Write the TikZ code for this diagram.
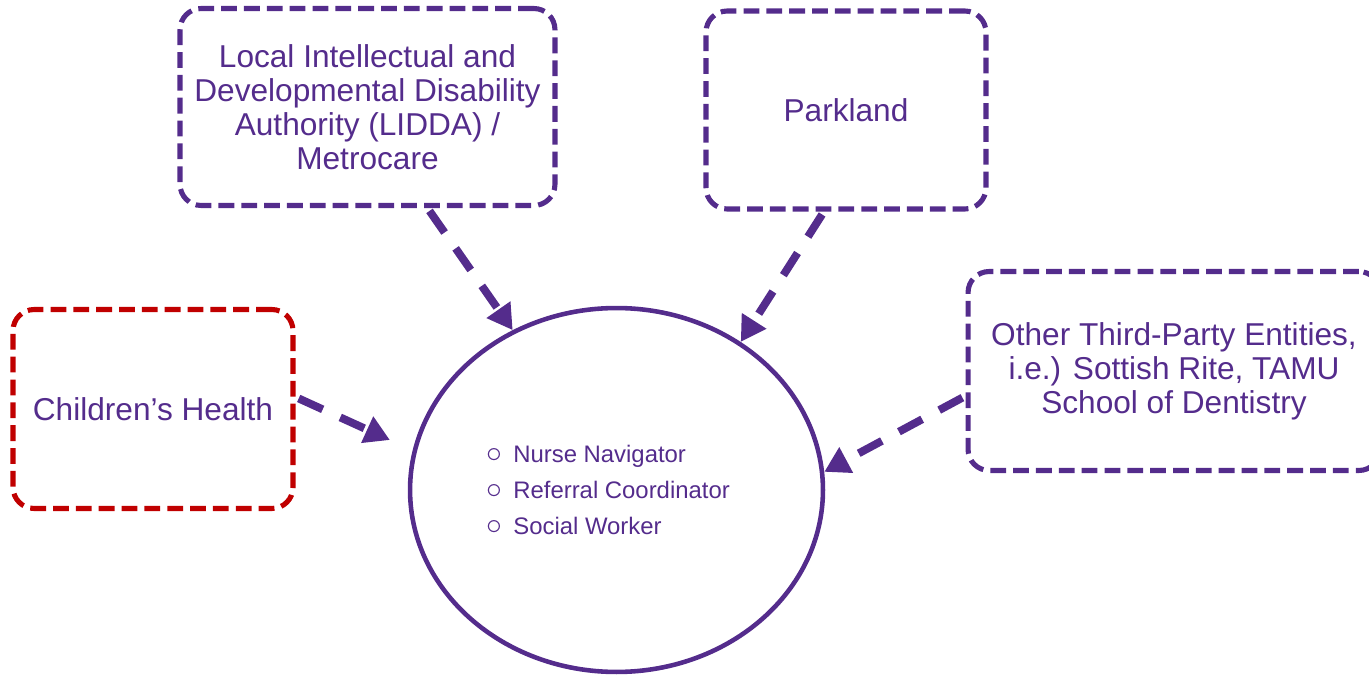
\documentclass[tikz,border=0pt]{standalone}
\usepackage{fontspec}
\setmainfont{Liberation Sans}
\usetikzlibrary{arrows.meta,shapes.geometric}
\definecolor{lidpurple}{HTML}{542C8C}
\definecolor{chred}{HTML}{C00000}
\tikzstyle{agency}=[
	rectangle,
	rounded corners=12,
	draw=lidpurple,
	line width=2.9pt,
	dash pattern=on 9pt off 4pt,
	text=lidpurple,
	align=center,
	inner sep=0,
	font=\fontsize{18}{19.4}\selectfont]
\tikzstyle{hubnode}=[
	ellipse,
	draw=lidpurple,
	line width=2.6pt,
	inner sep=0,
	minimum width=8.26cm,
	minimum height=7.28cm]
\tikzstyle{referral}=[
	draw=lidpurple,
	line width=4.5pt,
	dash pattern=on 15pt off 11pt,
	shorten <=2pt]
\newcommand{\rolebullet}{\makebox[0.58cm][l]{\hspace{1pt}\scalebox{1.25}{$\circ$}}}

\begin{document}
\begin{tikzpicture}[x=0.02cm,y=-0.02cm,>={Triangle[length=0.5cm,width=0.55cm]}]
		\useasboundingbox (0,0) rectangle (1369,675);
		\node[agency,minimum width=7.5cm,minimum height=3.94cm] (lidda) at (367.5,107)
			{Local Intellectual and\\Developmental Disability\\Authority (LIDDA) /\\Metrocare};
		\node[agency,minimum width=5.6cm,minimum height=3.96cm] (park) at (846,110)
			{Parkland};
		\node[agency,draw=chred,minimum width=5.6cm,minimum height=3.98cm] (child) at (153,409)
			{Children’s Health};
		\node[agency,minimum width=8.24cm,minimum height=3.98cm] (other) at (1174,371)
			{Other Third-Party Entities,\\i.e.) Sottish Rite, TAMU\\School of Dentistry};
		\node[hubnode] (hub) at (616.5,490) {};
		\node[anchor=west,inner sep=0,align=left,text=lidpurple,
			font=\fontsize{13.6}{20.4}\selectfont] (roles) at (484,490)
			{\rolebullet Nurse Navigator\\\rolebullet Referral Coordinator\\\rolebullet Social Worker};
		\draw[referral,->] ([xshift=1.2cm]lidda.south) -- (hub.123);
		\draw[referral,->] ([xshift=-0.44cm]park.south) -- (hub.50);
		\draw[referral,->,shorten >=0.5cm] ([yshift=0.24cm]child.east) -- (hub.169);
		\draw[referral,->] ([yshift=-0.5cm]other.west) -- (hub.5);
	\end{tikzpicture}
\end{document}
